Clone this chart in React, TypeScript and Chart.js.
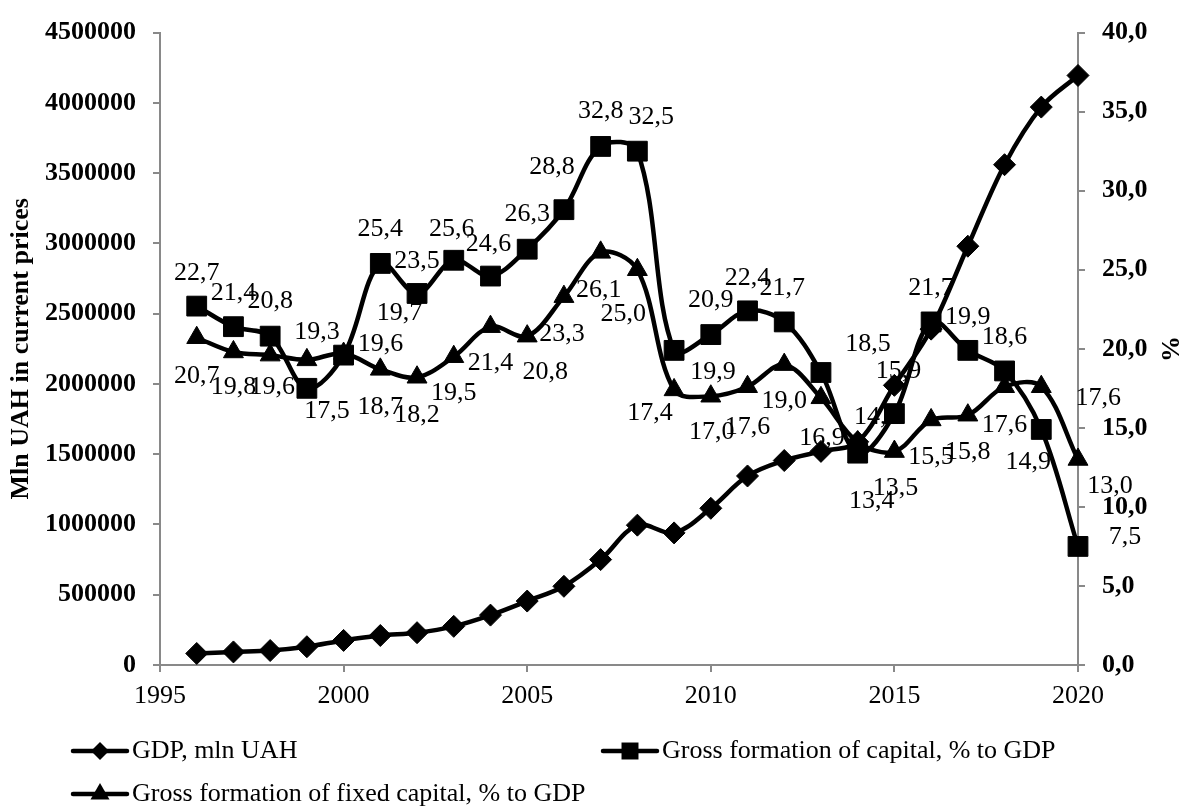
import React, { useEffect, useRef } from 'react';
import { Chart, registerables } from 'chart.js';

Chart.register(...registerables);

const FONT = "'Times New Roman', 'Liberation Serif', serif";
const GRAY = '#898989';

// ---- data ----
const years = [1996, 1997, 1998, 1999, 2000, 2001, 2002, 2003, 2004, 2005, 2006, 2007, 2008, 2009, 2010, 2011, 2012, 2013, 2014, 2015, 2016, 2017, 2018, 2019, 2020];
const gdpMlnUah = [82000, 93000, 103000, 130000, 175000, 210000, 230000, 275000, 355000, 455000, 560000, 750000, 995000, 940000, 1115000, 1345000, 1455000, 1520000, 1588000, 1990000, 2390000, 2980000, 3560000, 3970000, 4195000];
const grossCapitalPct = [22.7, 21.4, 20.8, 17.5, 19.6, 25.4, 23.5, 25.6, 24.6, 26.3, 28.8, 32.8, 32.5, 19.9, 20.9, 22.4, 21.7, 18.5, 13.4, 15.9, 21.7, 19.9, 18.6, 14.9, 7.5];
const grossFixedCapitalPct = [20.7, 19.8, 19.6, 19.3, 19.7, 18.7, 18.2, 19.5, 21.4, 20.8, 23.3, 26.1, 25.0, 17.4, 17.0, 17.6, 19.0, 16.9, 14.1, 13.5, 15.5, 15.8, 17.6, 17.6, 13.0];
const seriesNames = ['GDP, mln UAH', 'Gross formation of capital, % to GDP', 'Gross formation of fixed capital, % to GDP'];
const xRange = [1995, 2020];
const xStep = 5;
const leftRange = [0, 4500000];
const leftStep = 500000;
const rightRange = [0, 40];
const rightStep = 5;
const leftTitle = 'Mln UAH in current prices';
const rightTitle = '%';

// ---- label placement (pixel offsets from the point) ----
const capitalLabelOffsets: [number, number][] = [
  [0, -33], [0, -33], [0, -35], [20, 23], [37, -11], [0, -34], [0, -32], [-2, -31], [-2, -32], [0, -35],
  [-12, -43], [0, -35], [14, -34], [39, 22], [0, -34], [0, -33], [-2, -34], [47, -28], [14, 48], [4, -42],
  [0, -34], [0, -33], [0, -34], [-13, 33], [47, -9],
];
const fixedLabelOffsets: [number, number][] = [
  [0, 38], [0, 35], [2, 32], [10, -28], [56, -40], [0, 38], [0, 38], [0, 36], [0, 37], [18, 36],
  [-2, 38], [-2, 38], [-14, 44], [-24, 23], [1, 36], [0, 40], [0, 37], [1, 40], [19, -25], [1, 37],
  [0, 37], [0, 37], [0, 38], [57, 11], [32, 27],
];
const labelOffsetsByDataset: Record<number, [number, number][]> = { 1: capitalLabelOffsets, 2: fixedLabelOffsets };

const legendLayout = [
  { ds: 0, x: 73, y: 751 },
  { ds: 1, x: 603, y: 751 },
  { ds: 2, x: 73, y: 794 },
];

function drawMarker(ctx: CanvasRenderingContext2D, style: string, x: number, y: number, r: number) {
  ctx.beginPath();
  if (style === 'rectRot') {
    ctx.moveTo(x - r, y);
    ctx.lineTo(x, y - r);
    ctx.lineTo(x + r, y);
    ctx.lineTo(x, y + r);
  } else if (style === 'rect') {
    const s = r * Math.SQRT1_2;
    ctx.rect(x - s, y - s, 2 * s, 2 * s);
  } else {
    for (let k = 0; k < 3; k++) {
      const a = (k * 2 * Math.PI) / 3;
      const px = x + Math.sin(a) * r;
      const py = y - Math.cos(a) * r;
      if (k === 0) ctx.moveTo(px, py);
      else ctx.lineTo(px, py);
    }
  }
  ctx.closePath();
  ctx.fill();
}

const fmtPct = (v: number) => v.toFixed(1).replace('.', ',');

const pointLabelPlugin = {
  id: 'pointLabels',
  afterDatasetsDraw(chart: any) {
    const ctx = chart.ctx as CanvasRenderingContext2D;
    ctx.save();
    ctx.font = `26px ${FONT}`;
    ctx.fillStyle = '#000';
    ctx.textAlign = 'center';
    ctx.textBaseline = 'middle';
    chart.data.datasets.forEach((ds: any, di: number) => {
      const offsets = labelOffsetsByDataset[di];
      if (!offsets) return;
      const meta = chart.getDatasetMeta(di);
      meta.data.forEach((pt: any, i: number) => {
        const [dx, dy] = offsets[i] || [0, -34];
        ctx.fillText(fmtPct(ds.data[i].y), pt.x + dx, pt.y + dy);
      });
    });
    ctx.restore();
  },
};

const legendPlugin = {
  id: 'gridLegend',
  afterDraw(chart: any) {
    const ctx = chart.ctx as CanvasRenderingContext2D;
    ctx.save();
    legendLayout.forEach(({ ds, x, y }) => {
      const d = chart.data.datasets[ds];
      ctx.strokeStyle = '#000';
      ctx.fillStyle = '#000';
      ctx.lineWidth = 4.5;
      ctx.lineCap = 'round';
      ctx.beginPath();
      ctx.moveTo(x, y);
      ctx.lineTo(x + 54, y);
      ctx.stroke();
      const r = d.pointStyle === 'rect' ? 12 : d.pointStyle === 'triangle' ? 11 : 9;
      drawMarker(ctx, d.pointStyle, x + 27, y, r);
      ctx.font = `26px ${FONT}`;
      ctx.textAlign = 'left';
      ctx.textBaseline = 'middle';
      ctx.fillText(d.label, x + 59, y);
    });
    ctx.restore();
  },
};

export default function App() {
  const canvasRef = useRef<HTMLCanvasElement>(null);

  useEffect(() => {
    const canvas = canvasRef.current;
    if (!canvas) return;
    Chart.defaults.font.family = FONT;
    Chart.defaults.color = '#000';

    const mk = (arr: number[]) => years.map((yr, i) => ({ x: yr, y: arr[i] }));
    const common = {
      borderColor: '#000',
      backgroundColor: '#000',
      pointBackgroundColor: '#000',
      pointBorderColor: '#000',
      pointBorderWidth: 1,
      borderWidth: 4.5,
      tension: 0.35,
      borderJoinStyle: 'round' as const,
      borderCapStyle: 'round' as const,
      clip: false as const,
      fill: false,
    };

    const chart = new Chart(canvas, {
      type: 'line',
      data: {
        datasets: [
          { ...common, label: seriesNames[0], data: mk(gdpMlnUah), yAxisID: 'y', pointStyle: 'rectRot', pointRadius: 11, pointHoverRadius: 11, order: 3 },
          { ...common, label: seriesNames[1], data: mk(grossCapitalPct), yAxisID: 'y1', pointStyle: 'rect', pointRadius: 14, pointHoverRadius: 14, order: 2 },
          { ...common, label: seriesNames[2], data: mk(grossFixedCapitalPct), yAxisID: 'y1', pointStyle: 'triangle', pointRadius: 11.5, pointHoverRadius: 11.5, order: 1 },
        ] as any,
      },
      options: {
        responsive: false,
        maintainAspectRatio: false,
        devicePixelRatio: 1,
        animation: false,
        layout: { padding: { top: 22, left: 0, right: 0, bottom: 0 } },
        plugins: {
          legend: { display: false },
          tooltip: { enabled: false },
        },
        scales: {
          x: {
            type: 'linear',
            position: 'bottom',
            min: xRange[0],
            max: xRange[1],
            ticks: {
              stepSize: xStep,
              callback: (v: any) => String(v),
              font: { size: 26 },
              color: '#000',
              padding: 9,
              maxRotation: 0,
              autoSkip: false,
            },
            grid: { drawOnChartArea: false, drawTicks: true, tickLength: 7, color: GRAY, lineWidth: 2 },
            border: { color: GRAY, width: 2 },
            afterFit: (s: any) => { s.height = 144; },
          },
          y: {
            type: 'linear',
            position: 'left',
            min: leftRange[0],
            max: leftRange[1],
            ticks: {
              stepSize: leftStep,
              callback: (v: any) => String(v),
              font: { size: 26, weight: 'bold' },
              color: '#000',
              padding: 17,
            },
            title: { display: true, text: leftTitle, font: { size: 26, weight: 'bold' }, color: '#000', padding: { top: 6, bottom: 0 } },
            grid: { drawOnChartArea: false, drawTicks: true, tickLength: 7, color: GRAY, lineWidth: 2 },
            border: { color: GRAY, width: 2 },
            afterFit: (s: any) => { s.width = 160; },
          },
          y1: {
            type: 'linear',
            position: 'right',
            min: rightRange[0],
            max: rightRange[1],
            ticks: {
              stepSize: rightStep,
              callback: (v: any) => fmtPct(Number(v)),
              font: { size: 26, weight: 'bold' },
              color: '#000',
              padding: 17,
            },
            title: { display: true, text: rightTitle, font: { size: 26, weight: 'bold' }, color: '#000', padding: { top: 4, bottom: 0 } },
            grid: { drawOnChartArea: false, drawTicks: true, tickLength: 7, color: GRAY, lineWidth: 2 },
            border: { color: GRAY, width: 2 },
            afterFit: (s: any) => { s.width = 110; },
          },
        },
      } as any,
      plugins: [pointLabelPlugin, legendPlugin],
    });

    return () => chart.destroy();
  }, []);

  return (
    <div style={{ position: 'fixed', left: 0, top: 0, width: 1188, height: 809, background: '#fff' }}>
      <canvas ref={canvasRef} width={1188} height={809} style={{ display: 'block', width: 1188, height: 809 }} />
    </div>
  );
}
